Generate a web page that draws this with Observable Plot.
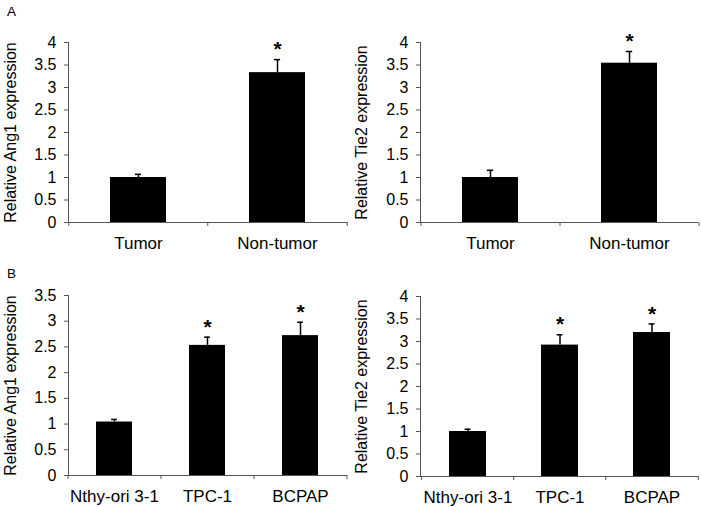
<!DOCTYPE html>
<html>
<head>
<meta charset="utf-8">
<script src="https://cdn.jsdelivr.net/npm/d3@7"></script>
<script src="https://cdn.jsdelivr.net/npm/@observablehq/plot@0.6"></script>
<style>
  html, body { margin: 0; padding: 0; background: #fff; }
  #wrap { position: relative; width: 702px; height: 507px; background: #fff; font-family: "Liberation Sans", Arial, sans-serif; }
  .panel { position: absolute; }
  .letter { position: absolute; font-size: 13.5px; line-height: 13.5px; color: #000; z-index: 5; }
</style>
</head>
<body>
<div id="wrap">
  <div class="letter" style="left:7px; top:5px;">A</div>
  <div class="letter" style="left:7px; top:267px;">B</div>
</div>
<script>
// ---- data ----
const catsA = ["Tumor", "Non-tumor"];
const ang1A = [1.0, 3.33];
const ang1AErr = [0.07, 0.29];
const tie2A = [1.0, 3.54];
const tie2AErr = [0.16, 0.26];
const sigA = [false, true];

const catsB = ["Nthy-ori 3-1", "TPC-1", "BCPAP"];
const ang1B = [1.04, 2.53, 2.72];
const ang1BErr = [0.05, 0.16, 0.26];
const tie2B = [1.0, 2.92, 3.2];
const tie2BErr = [0.05, 0.23, 0.19];
const sigB = [false, true, true];

const titleAng1 = "Relative Ang1 expression";
const titleTie2 = "Relative Tie2 expression";

function panel(o) {
  const rows = o.cats.map((c, i) => ({cat: c, v: o.vals[i], up: o.vals[i] + o.errs[i], sig: o.sig[i]}));
  const n = o.cats.length;
  const plotW = o.width - o.mL - o.mR;
  const step = plotW / n;
  const bw = step * (1 - o.pad);
  const capInset = (bw - 6) / 2;
  const pxPerUnit = (o.height - o.mT - o.mB) / o.ymax;
  const tickVals = d3.range(0, o.ymax + 0.001, 0.5);
  const axisColor = "#555";
  return Plot.plot({
    width: o.width,
    height: o.height,
    marginLeft: o.mL,
    marginRight: o.mR,
    marginTop: o.mT,
    marginBottom: o.mB,
    style: {fontFamily: "'Liberation Sans', Arial, sans-serif", background: "transparent", color: "#000", overflow: "visible"},
    x: {type: "band", domain: o.cats, paddingInner: o.pad, paddingOuter: o.pad / 2, axis: null},
    y: {domain: [0, o.ymax], axis: null},
    marks: [
      Plot.barY(rows, {x: "cat", y: "v", fill: "#000"}),
      Plot.ruleX(rows, {x: "cat", y1: "v", y2: "up", stroke: "#000", strokeWidth: 1.5}),
      Plot.tickY(rows, {x: "cat", y: "up", stroke: "#000", strokeWidth: 1.5, insetLeft: capInset, insetRight: capInset}),
      Plot.text(rows.filter(d => d.sig), {x: "cat", y: "up", text: () => "*", dy: -10, fontSize: 21, fontWeight: "bold", fill: "#000"}),
      Plot.frame({anchor: "left", stroke: axisColor}),
      Plot.ruleY([0], {stroke: axisColor}),
      Plot.ruleX(o.cats, {x: d => d, dx: -step / 2, y1: 0, y2: -4 / pxPerUnit, stroke: axisColor}),
      Plot.ruleX([o.cats[n - 1]], {x: d => d, dx: step / 2, y1: 0, y2: -4 / pxPerUnit, stroke: axisColor}),
      Plot.axisY(tickVals, {tickSize: 4, tickPadding: 8, tickFormat: d => String(d), fontSize: 16, label: null, stroke: axisColor, fill: "#000"}),
      Plot.axisX({tickSize: 0, tickPadding: 14, fontSize: 17, label: null, fill: "#000"}),
      Plot.text([o.title], {frameAnchor: "left", textAnchor: "middle", lineAnchor: "middle", dx: 10 - o.mL, rotate: -90, fontSize: 16, text: d => d, fill: "#000"})
    ]
  });
}

const wrap = document.getElementById("wrap");
const specs = [
  {left: 0, top: 0, width: 351, height: 252, mL: 68, mR: 4, mT: 42, mB: 30, pad: 0.6, ymax: 4, cats: catsA, vals: ang1A, errs: ang1AErr, sig: sigA, title: titleAng1},
  {left: 351, top: 0, width: 351, height: 252, mL: 69, mR: 4, mT: 42, mB: 30, pad: 0.6, ymax: 4, cats: catsA, vals: tie2A, errs: tie2AErr, sig: sigA, title: titleTie2},
  {left: 0, top: 252, width: 351, height: 255, mL: 68, mR: 4, mT: 43, mB: 32, pad: 0.61, ymax: 3.5, cats: catsB, vals: ang1B, errs: ang1BErr, sig: sigB, title: titleAng1},
  {left: 351, top: 252, width: 351, height: 255, mL: 69, mR: 4, mT: 44, mB: 31, pad: 0.6, ymax: 4, cats: catsB, vals: tie2B, errs: tie2BErr, sig: sigB, title: titleTie2}
];
for (const s of specs) {
  const div = document.createElement("div");
  div.className = "panel";
  div.style.left = s.left + "px";
  div.style.top = s.top + "px";
  div.appendChild(panel(s));
  wrap.appendChild(div);
}
</script>
</body>
</html>
